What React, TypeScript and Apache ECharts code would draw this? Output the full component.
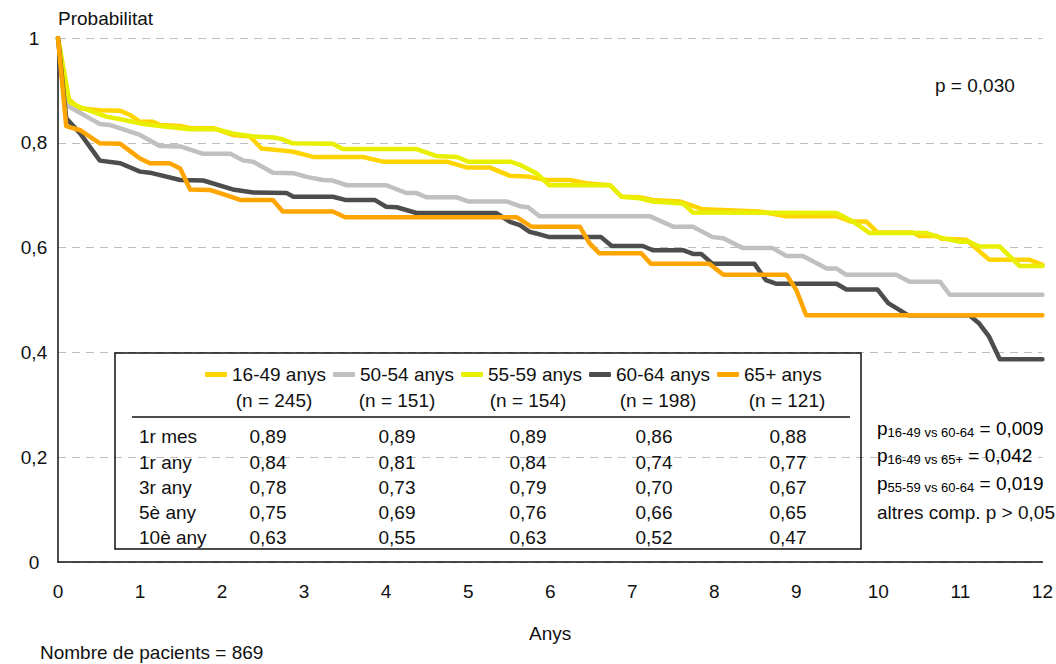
import React, { useEffect, useRef } from 'react';
import * as echarts from 'echarts';

const F = "'Liberation Sans', Arial, sans-serif";
const FS = 19;

const seriesNames = ['16-49 anys', '50-54 anys', '55-59 anys', '60-64 anys', '65+ anys'];
const seriesCounts = ['(n = 245)', '(n = 151)', '(n = 154)', '(n = 198)', '(n = 121)'];
const seriesColors = ['#FFD400', '#C0C0C0', '#E8F000', '#4D4D4D', '#FFA500'];

const s1649 = [[0,1],[0.12,0.885],[0.25,0.866],[0.51,0.862],[0.76,0.861],[0.88,0.853],[1.0,0.840],[1.16,0.84],[1.24,0.834],[1.49,0.832],[1.61,0.828],[1.89,0.828],[2.13,0.815],[2.34,0.812],[2.48,0.789],[2.70,0.786],[2.87,0.783],[3.11,0.773],[3.72,0.773],[3.96,0.764],[4.74,0.764],[4.98,0.753],[5.26,0.753],[5.51,0.737],[5.75,0.735],[5.95,0.729],[6.24,0.729],[6.44,0.723],[6.73,0.719],[6.87,0.697],[7.09,0.696],[7.25,0.691],[7.58,0.688],[7.86,0.673],[8.55,0.669],[8.88,0.660],[9.49,0.660],[9.66,0.650],[9.85,0.650],[9.99,0.629],[10.42,0.629],[10.50,0.622],[10.71,0.622],[10.77,0.617],[11.07,0.615],[11.35,0.577],[11.84,0.577],[12,0.567]];
const s5054 = [[0,1],[0.1,0.872],[0.35,0.85],[0.51,0.836],[0.63,0.834],[1.0,0.815],[1.24,0.794],[1.49,0.793],[1.77,0.779],[2.10,0.779],[2.26,0.766],[2.38,0.764],[2.62,0.743],[2.87,0.742],[3.03,0.735],[3.23,0.729],[3.35,0.728],[3.52,0.719],[4.0,0.719],[4.25,0.704],[4.37,0.704],[4.49,0.696],[4.86,0.696],[5.0,0.688],[5.47,0.688],[5.63,0.679],[5.73,0.677],[5.87,0.660],[7.21,0.660],[7.50,0.640],[7.74,0.640],[7.98,0.620],[8.11,0.618],[8.35,0.599],[8.71,0.599],[8.88,0.584],[9.08,0.584],[9.37,0.560],[9.49,0.560],[9.61,0.548],[10.22,0.548],[10.38,0.535],[10.75,0.535],[10.87,0.510],[12,0.510]];
const s5559 = [[0,1],[0.14,0.878],[0.27,0.868],[0.59,0.850],[0.76,0.845],[1.0,0.837],[1.24,0.832],[1.61,0.826],[1.93,0.826],[2.13,0.818],[2.38,0.812],[2.63,0.81],[2.73,0.807],[2.86,0.799],[3.35,0.798],[3.47,0.788],[4.37,0.788],[4.61,0.775],[4.86,0.773],[5.0,0.764],[5.51,0.764],[5.63,0.758],[5.83,0.742],[5.99,0.719],[6.73,0.719],[6.87,0.697],[7.09,0.694],[7.25,0.688],[7.62,0.684],[7.74,0.667],[9.49,0.666],[9.69,0.650],[9.89,0.628],[10.58,0.628],[10.71,0.621],[10.99,0.611],[11.11,0.611],[11.23,0.602],[11.48,0.602],[11.72,0.565],[12,0.565]];
const s6064 = [[0,1],[0.1,0.847],[0.27,0.818],[0.51,0.766],[0.76,0.761],[1.0,0.745],[1.12,0.743],[1.49,0.729],[1.77,0.728],[2.13,0.711],[2.38,0.705],[2.79,0.704],[2.87,0.697],[3.35,0.697],[3.50,0.691],[3.86,0.691],[4.0,0.678],[4.13,0.677],[4.37,0.666],[5.34,0.666],[5.51,0.649],[5.63,0.643],[5.75,0.630],[5.83,0.627],[5.99,0.620],[6.62,0.620],[6.75,0.603],[7.13,0.603],[7.25,0.595],[7.62,0.595],[7.74,0.588],[7.84,0.588],[7.98,0.569],[8.49,0.569],[8.63,0.538],[8.76,0.531],[9.49,0.531],[9.61,0.520],[9.99,0.520],[10.12,0.494],[10.36,0.471],[11.11,0.471],[11.23,0.455],[11.35,0.430],[11.48,0.387],[12,0.387]];
const s65 = [[0,1],[0.1,0.832],[0.27,0.824],[0.51,0.799],[0.76,0.798],[1.0,0.770],[1.12,0.761],[1.36,0.761],[1.49,0.751],[1.61,0.711],[1.85,0.710],[2.05,0.700],[2.22,0.691],[2.62,0.691],[2.74,0.669],[3.35,0.669],[3.50,0.658],[5.59,0.658],[5.77,0.640],[6.36,0.640],[6.48,0.608],[6.60,0.589],[7.11,0.589],[7.23,0.569],[7.94,0.569],[8.11,0.548],[8.88,0.548],[9.0,0.519],[9.12,0.471],[12,0.471]];
const seriesData = [s1649, s5054, s5559, s6064, s65];

const rowLabels = ['1r mes', '1r any', '3r any', '5è any', '10è any'];
const tableValues = [
  ['0,89', '0,89', '0,89', '0,86', '0,88'],
  ['0,84', '0,81', '0,84', '0,74', '0,77'],
  ['0,78', '0,73', '0,79', '0,70', '0,67'],
  ['0,75', '0,69', '0,76', '0,66', '0,65'],
  ['0,63', '0,55', '0,63', '0,52', '0,47'],
];
const pComparisons = [
  ['16-49 vs 60-64', '0,009'],
  ['16-49 vs 65+', '0,042'],
  ['55-59 vs 60-64', '0,019'],
];
const pOther = 'altres comp. p > 0,05';
const pGlobal = 'p = 0,030';
const patientsNote = 'Nombre de pacients = 869';

// layout (pixels)
const colX = [268, 397, 528, 654, 788];
const nX = [274, 397, 528, 658, 787];
const rowY = [436, 462, 487, 512, 537];
const pY = [428, 455, 483, 512];

export default function App() {
  const ref = useRef<HTMLDivElement>(null);
  useEffect(() => {
    if (!ref.current) return;
    const chart = echarts.init(ref.current, null, { renderer: 'svg' });
    const txt = { fontFamily: F, fontSize: FS, fill: '#111' };
    const graphics: any[] = [];
    graphics.push({
      type: 'rect', shape: { x: 115, y: 353, width: 746, height: 196 },
      style: { fill: 'none', stroke: '#111', lineWidth: 1.5 }, z: 10,
    });
    graphics.push({
      type: 'line', shape: { x1: 132, y1: 417, x2: 850, y2: 417 },
      style: { stroke: '#111', lineWidth: 1.5 }, z: 10,
    });
    seriesCounts.forEach((n, i) => {
      graphics.push({ type: 'text', x: nX[i], y: 400, style: { ...txt, text: n, align: 'center', verticalAlign: 'middle' }, z: 10 });
    });
    rowLabels.forEach((r, j) => {
      graphics.push({ type: 'text', x: 139, y: rowY[j], style: { ...txt, text: r, align: 'left', verticalAlign: 'middle' }, z: 10 });
      tableValues[j].forEach((v, i) => {
        graphics.push({ type: 'text', x: colX[i], y: rowY[j], style: { ...txt, text: v, align: 'center', verticalAlign: 'middle' }, z: 10 });
      });
    });
    pComparisons.forEach((c, k) => {
      graphics.push({
        type: 'text', x: 877, y: pY[k],
        style: {
          text: `{a|p}{b|${c[0]}}{a| = ${c[1]}}`,
          align: 'left', verticalAlign: 'middle',
          rich: {
            a: { fontFamily: F, fontSize: FS, color: '#111', lineHeight: 22 },
            b: { fontFamily: F, fontSize: 13, color: '#111', lineHeight: 11, verticalAlign: 'bottom' },
          },
        }, z: 10,
      });
    });
    graphics.push({ type: 'text', x: 877, y: pY[3], style: { ...txt, text: pOther, align: 'left', verticalAlign: 'middle' }, z: 10 });
    graphics.push({ type: 'text', x: 935, y: 85, style: { ...txt, text: pGlobal, align: 'left', verticalAlign: 'middle' }, z: 10 });
    graphics.push({ type: 'text', x: 40, y: 652, style: { ...txt, text: patientsNote, align: 'left', verticalAlign: 'middle' }, z: 10 });

    chart.setOption({
      animation: false,
      backgroundColor: '#fff',
      textStyle: { fontFamily: F },
      grid: { left: 58, right: 13, top: 38, bottom: 102, containLabel: false },
      legend: {
        left: 205, top: 365, padding: 0, itemWidth: 22, itemHeight: 5, itemGap: 7,
        icon: 'roundRect', selectedMode: false,
        textStyle: { fontFamily: F, fontSize: FS, color: '#111' },
        data: seriesNames,
      },
      xAxis: {
        type: 'value', min: 0, max: 12, interval: 1,
        name: 'Anys', nameLocation: 'middle', nameGap: 62,
        nameTextStyle: { fontFamily: F, fontSize: FS, color: '#111' },
        axisLine: { show: true, lineStyle: { color: '#111', width: 1.5 } },
        axisTick: { show: false },
        splitLine: { show: false },
        axisLabel: { fontFamily: F, fontSize: FS, color: '#111', margin: 20 },
      },
      yAxis: {
        type: 'value', min: 0, max: 1, interval: 0.2,
        name: 'Probabilitat', nameLocation: 'end', nameGap: 20,
        nameTextStyle: { fontFamily: F, fontSize: FS, color: '#111', align: 'left', verticalAlign: 'middle' },
        axisLine: { show: true, lineStyle: { color: '#111', width: 1.5 } },
        axisTick: { show: false },
        splitLine: { show: true, lineStyle: { color: '#BDBDBD', type: [8, 6], width: 1 } },
        axisLabel: {
          fontFamily: F, fontSize: FS, color: '#111', margin: 24, align: 'center',
          formatter: (v: number) => (Math.round(v * 10) / 10).toString().replace('.', ','),
        },
      },
      series: seriesNames.map((name, i) => ({
        name, type: 'line', data: seriesData[i], showSymbol: false, symbol: 'none',
        lineStyle: { color: seriesColors[i], width: 4.5, cap: 'round', join: 'round' },
        itemStyle: { color: seriesColors[i] },
        z: 2 + i,
      })),
      graphic: graphics,
    });
    return () => chart.dispose();
  }, []);
  return <div ref={ref} style={{ position: 'fixed', left: 0, top: 0, width: 1056, height: 664 }} />;
}
